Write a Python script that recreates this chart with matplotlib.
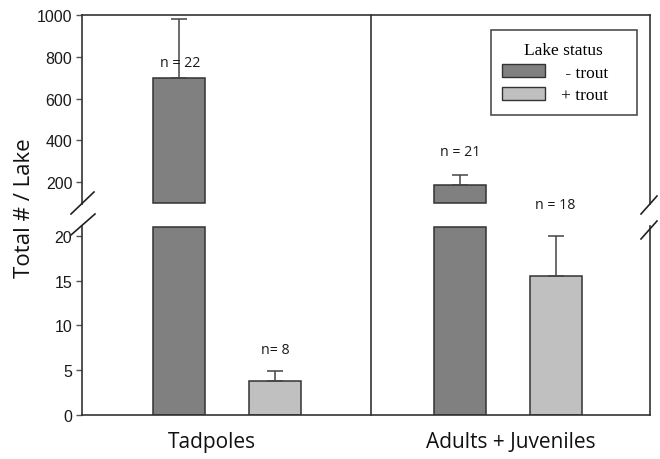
import matplotlib
matplotlib.use("Agg")
import matplotlib.pyplot as plt
from matplotlib.lines import Line2D
from matplotlib.patches import Patch

groups = ["Tadpoles", "Adults + Juveniles"]
series = [" - trout", "+ trout"]
means_no_trout = [700, 187]
err_no_trout = [980, 237]
means_trout = [3.75, 15.5]
err_trout = [4.95, 20.0]
n_no_trout = ["n = 22", "n = 21"]
n_trout = ["n= 8", "n = 18"]
upper_ticks = [200, 400, 600, 800, 1000]
lower_ticks = [0, 5, 10, 15, 20]

W, H = 660, 460
fig = plt.figure(figsize=(6.6, 4.6), dpi=100)

def fx(px):
    return px / W

def fy(py):
    return 1 - py / H

L, R = 82, 650
ax_top = fig.add_axes([fx(L), fy(205), fx(R - L), (205 - 16) / H])
ax_bot = fig.add_axes([fx(L), fy(416), fx(R - L), (416 - 227) / H])

LOW_MAX = 21.1
UP_MIN, UP_MAX = 96, 1000
ax_top.set_ylim(UP_MIN, UP_MAX)
ax_bot.set_ylim(0, LOW_MAX)
ax_top.set_yticks(upper_ticks)
ax_bot.set_yticks(lower_ticks)
for ax in (ax_top, ax_bot):
    ax.set_xlim(0, 2)
    ax.set_xticks([])
    for s in ax.spines.values():
        s.set_color("#333333")
        s.set_linewidth(1.2)
    ax.tick_params(axis="y", direction="out", length=4, width=1, color="#555555",
                   labelsize=11.5, pad=3)
    for lab in ax.get_yticklabels():
        lab.set_family("Liberation Sans")
        lab.set_color("#1a1a1a")
ax_top.spines["bottom"].set_visible(False)
ax_bot.spines["top"].set_visible(False)

centers = [0.51, 1.50]
off = 0.17
bw = 0.183
dark = "#808080"
light = "#c0c0c0"
edge = "#333333"

x_no = [c - off for c in centers]
x_tr = [c + off for c in centers]

# upper panel: bars start at the break
for x, m in zip(x_no, means_no_trout):
    if m > UP_MIN:
        ax_top.bar(x, m - UP_MIN - 4, bw, bottom=UP_MIN + 4, color=dark, edgecolor=edge,
                   linewidth=1.1, zorder=2)
# lower panel: bars truncated at the break
for x, m in zip(x_no, means_no_trout):
    ax_bot.bar(x, min(m, LOW_MAX - 0.1), bw, color=dark, edgecolor=edge, linewidth=1.1, zorder=2)
for x, m in zip(x_tr, means_trout):
    ax_bot.bar(x, min(m, LOW_MAX - 0.1), bw, color=light, edgecolor=edge, linewidth=1.1, zorder=2)

# divider between groups, continuous through the break
xdiv = L + 1.018 / 2 * (R - L)
fig.add_artist(Line2D([fx(xdiv), fx(xdiv)], [fy(416), fy(16)], color="#333333", lw=1.2))

def draw_err(x, m, e):
    ax = ax_top if m > LOW_MAX else ax_bot
    ax.errorbar([x], [m], yerr=[[0], [e - m]], fmt="none", ecolor="#444444",
                elinewidth=1.1, capsize=5.5, capthick=1.1, zorder=3)

for x, m, e in zip(x_no, means_no_trout, err_no_trout):
    draw_err(x, m, e)
for x, m, e in zip(x_tr, means_trout, err_trout):
    draw_err(x, m, e)

# n labels
nfont = dict(family="Open Sans", fontsize=10.2, color="#1a1a1a", ha="center", va="center")
ax_top.text(x_no[0] + 0.005, 775, n_no_trout[0], **nfont, zorder=4)
ax_top.text(x_no[1], 347, n_no_trout[1], **nfont, zorder=4)
ax_bot.text(x_tr[0], 7.35, n_trout[0], **nfont, zorder=4)
ax_bot.text(x_tr[1] - 0.005, 23.5, n_trout[1], **nfont, zorder=4, clip_on=False)

# legend
handles = [Patch(facecolor=dark, edgecolor=edge, linewidth=1),
           Patch(facecolor=light, edgecolor=edge, linewidth=1)]
leg = ax_top.legend(handles, [s + "    " for s in series], title="Lake status",
                    loc="upper right",
                    bbox_to_anchor=(0.977, 0.918), frameon=True, fancybox=False,
                    prop={"family": "Liberation Serif", "size": 12.5},
                    title_fontproperties={"family": "Liberation Serif", "size": 12.5},
                    handlelength=2.5, handleheight=0.8, handletextpad=0.9,
                    borderpad=0.65, labelspacing=0.35, borderaxespad=0)
leg.get_frame().set_edgecolor("#222222")
leg.get_frame().set_linewidth(1.2)
leg._legend_box.align = "center"

# break marks
def brk(x0, y0, x1, y1):
    fig.add_artist(Line2D([fx(x0), fx(x1)], [fy(y0), fy(y1)], color="#222222", lw=1.2))

brk(71, 215, 94, 193)
brk(71, 236, 95, 215)
brk(641, 215, 657, 197)
brk(641, 240, 657, 222)

# labels
fig.text(fx(25), fy(208), "Total # / Lake", rotation=90, ha="center", va="center",
         family="Open Sans", fontsize=16, color="#111111")
label_x = [0.458, 1.51]
for c, g in zip(label_x, groups):
    xpix = L + c / 2 * (R - L)
    fig.text(fx(xpix), fy(443), g, ha="center", va="center", family="Open Sans",
             fontsize=15, color="#111111")

fig.savefig("out.png", dpi=100)
